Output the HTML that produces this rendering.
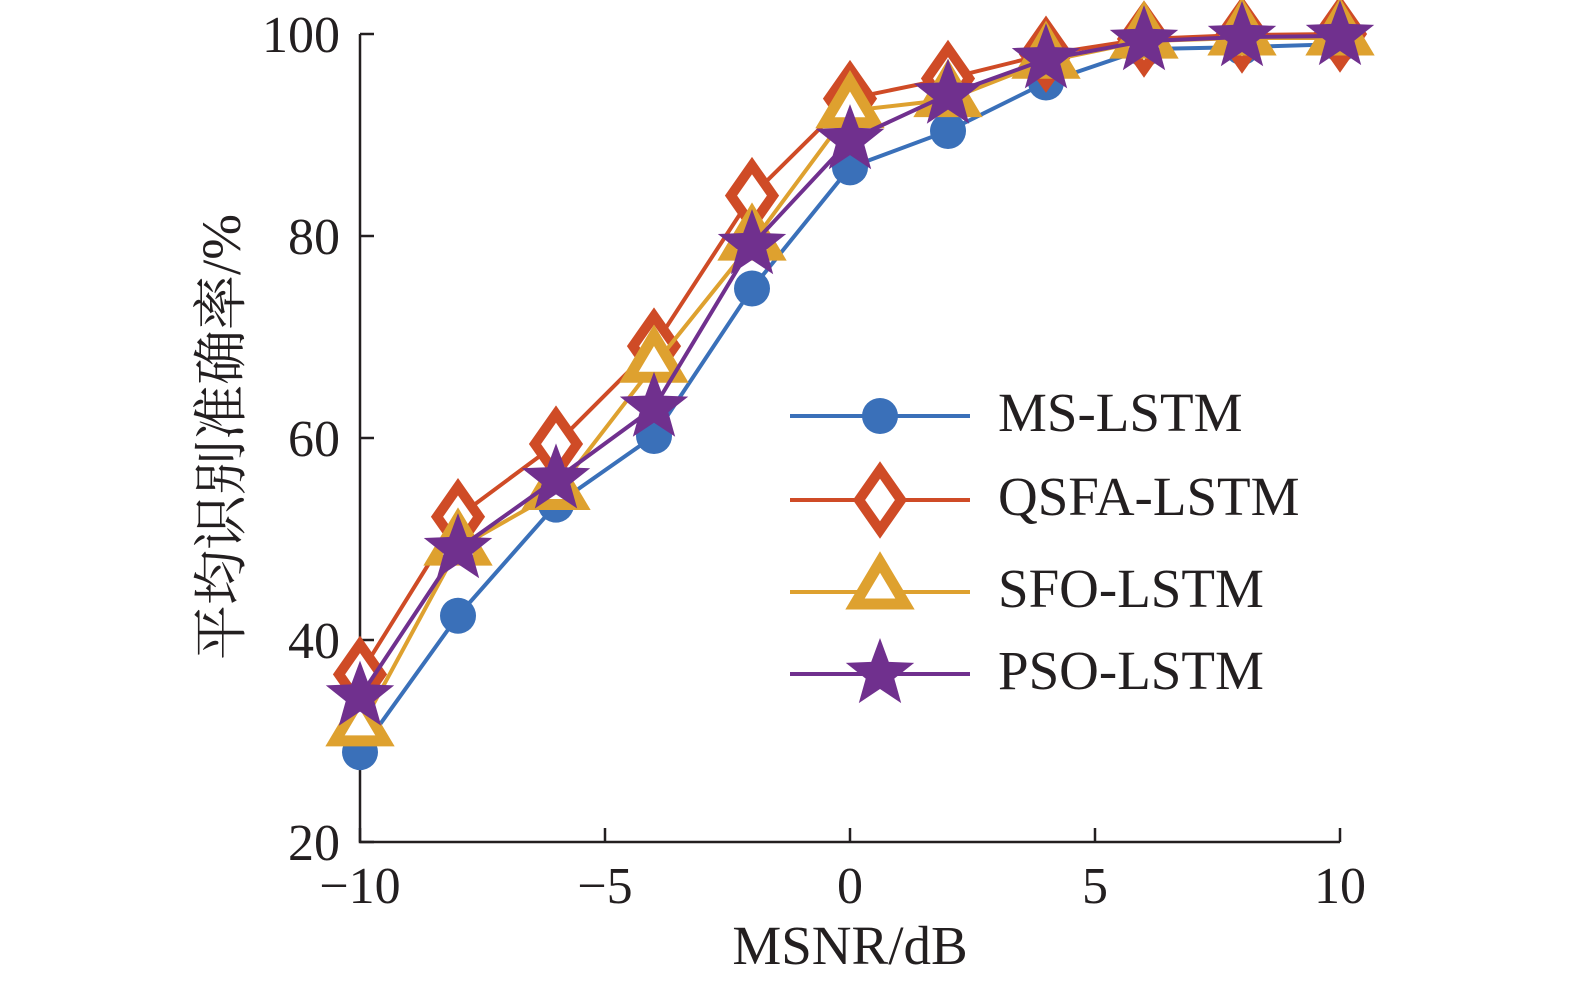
<!DOCTYPE html>
<html><head><meta charset="utf-8"><style>
body{margin:0;background:#fff}
svg text{font-family:"Liberation Serif","Noto Serif CJK SC",serif;fill:#231f20}
</style></head><body>
<svg id="chart" width="1575" height="985" viewBox="0 0 1575 985" xmlns="http://www.w3.org/2000/svg">
<g id="axes"></g>
<g id="series"></g>
<g id="legend"></g>
<text x="850" y="964" font-size="55" text-anchor="middle">MSNR/dB</text>
<text transform="translate(240,437) rotate(-90)" font-size="55" text-anchor="middle">平均识别准确率/%</text>
</svg>
<script>
const xValues=[-10,-8,-6,-4,-2,0,2,4,6,8,10];
const msLstm=[28.9,42.4,53.4,60.2,74.8,86.8,90.4,95.2,98.5,98.7,99];
const qsfaLstm=[36.6,52.2,59.4,69.1,84,93.6,95.6,98,99.5,99.9,100];
const sfoLstm=[31.2,49.1,54.6,67.2,79.3,92.4,93.5,97.3,99.3,99.6,99.6];
const psoLstm=[34.4,49,55.9,63,79.1,89.5,94,97.5,99.3,99.7,99.8];
const xTicks=[-10,-5,0,5,10];
const yTicks=[20,40,60,80,100];
const NS="http://www.w3.org/2000/svg";
const X=v=>360+(v+10)*49;
const Y=v=>842-(v-20)*10.1;
function mk(t,a,p){const e=document.createElementNS(NS,t);for(const k in a)e.setAttribute(k,a[k]);p.appendChild(e);return e;}
const axes=document.getElementById('axes');
let l=mk('path',{d:`M360 ${Y(100)} V842 H1340`,fill:'none',stroke:'#231f20','stroke-width':2.5},axes);


xTicks.forEach(v=>{
 const t=mk('line',{x1:X(v),x2:X(v),y1:842,y2:828,stroke:'#231f20','stroke-width':2.5},axes);
 
 
 const tx=mk('text',{x:X(v),y:903,'font-size':52,'text-anchor':'middle'},axes);
 tx.textContent=v<0?'\u2212'+(-v):String(v);
 
 
});
yTicks.forEach(v=>{
 const t=mk('line',{x1:360,x2:374,y1:Y(v),y2:Y(v),stroke:'#231f20','stroke-width':2.5},axes);
 
 
 const tx=mk('text',{x:340,y:Y(v)+18,'font-size':52,'text-anchor':'end'},axes);
 tx.textContent=v;
 
 
});
function marker(kind,x,y,c,p){
 if(kind==='circle')return mk('circle',{cx:x,cy:y,r:18,fill:c},p);
 if(kind==='diamond')return mk('path',{d:`M${x} ${y-30}L${x+21} ${y}L${x} ${y+30}L${x-21} ${y}Z`,fill:'#fff',stroke:c,'stroke-width':10,'stroke-linejoin':'miter'},p);
 if(kind==='triangle')return mk('path',{d:`M${x} ${y-30}L${x+25} ${y+12}L${x-25} ${y+12}Z`,fill:'#fff',stroke:c,'stroke-width':11,'stroke-linejoin':'miter'},p);
 let d='';for(let i=0;i<10;i++){const r=i%2?15:36,a=-Math.PI/2+i*Math.PI/5;d+=(i?'L':'M')+(x+r*Math.cos(a)).toFixed(1)+' '+(y+r*Math.sin(a)).toFixed(1);}
 return mk('path',{d:d+'Z',fill:c},p);
}
const series=[
 {name:'MS-LSTM',vals:msLstm,c:'#3a70b9',k:'circle',ly:416},
 {name:'QSFA-LSTM',vals:qsfaLstm,c:'#cf4b26',k:'diamond',ly:500},
 {name:'SFO-LSTM',vals:sfoLstm,c:'#dea12f',k:'triangle',ly:592},
 {name:'PSO-LSTM',vals:psoLstm,c:'#70308e',k:'star',ly:674}];
const sg=document.getElementById('series'),lg=document.getElementById('legend');
series.forEach(s=>{
 const g=mk('g',{},sg);
 
 
 const pl=mk('polyline',{points:xValues.map((x,i)=>X(x)+','+Y(s.vals[i])).join(' '),fill:'none',stroke:s.c,'stroke-width':4},g);
 
 
 xValues.forEach((x,i)=>{
  const m=marker(s.k,X(x),Y(s.vals[i]),s.c,g);
  
  
 });
 const e=mk('g',{},lg);
 
 
 mk('line',{x1:790,x2:970,y1:s.ly,y2:s.ly,stroke:s.c,'stroke-width':4},e);
 marker(s.k,880,s.ly,s.c,e);
 const t=mk('text',{x:998,y:s.ly+15,'font-size':55},e);
 t.textContent=s.name;
});
</script>
</body></html>
